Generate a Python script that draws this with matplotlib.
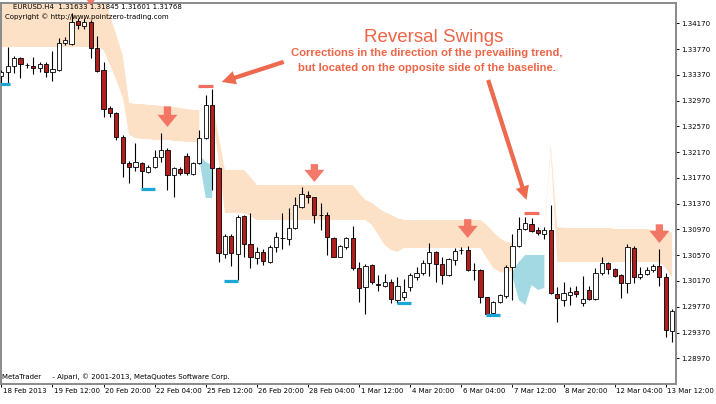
import numpy as np
import matplotlib
matplotlib.use('Agg')
import matplotlib.pyplot as plt
from matplotlib.patches import Rectangle
from matplotlib import transforms as mtrans

nan = np.nan

# ---------------- data (EURUSD H4) ----------------
opens = [1.33352, 1.33410, 1.33512, 1.33627, 1.33523, 1.33503, 1.33472, 1.33534, 1.33419, 1.33446,
         1.33860, 1.33849, 1.34206, 1.34133, 1.34195, 1.33782, 1.33446, 1.32851, 1.32773, 1.32410,
         1.32002, 1.31935, 1.32007, 1.31867, 1.31935, 1.32090, 1.32204, 1.31816, 1.31913, 1.32111,
         1.31831, 1.31997, 1.32385, 1.32902, 1.31920, 1.30589, 1.30869, 1.30589, 1.31179, 1.30745,
         1.30523, 1.30625, 1.30470, 1.30693, 1.30833, 1.30818, 1.30988, 1.31314, 1.31505, 1.31470,
         1.31199, 1.31195, 1.30833, 1.30548, 1.30703, 1.30833, 1.30367, 1.30073, 1.30419, 1.30119,
         1.30097, 1.30160, 1.29875, 1.29922, 1.30082, 1.30237, 1.30290, 1.30454, 1.30625, 1.30434,
         1.30263, 1.30496, 1.30652, 1.30652, 1.30341, 1.30341, 1.29917, 1.29669, 1.29849, 1.29938,
         1.30383, 1.30714, 1.30973, 1.31055, 1.30962, 1.30900, 1.30962, 1.29969, 1.29875, 1.29953,
         1.30015, 1.29834, 1.30031, 1.29886, 1.30299, 1.30454, 1.30352, 1.30263, 1.30135, 1.30678,
         1.30228, 1.30279, 1.30341, 1.30403, 1.30228, 1.29399]
highs = [1.33446, 1.33798, 1.33663, 1.33643, 1.33559, 1.33643, 1.33574, 1.33574, 1.33740, 1.33938,
         1.33953, 1.34335, 1.34248, 1.34248, 1.34222, 1.33973, 1.33574, 1.32887, 1.32798, 1.32437,
         1.32038, 1.32317, 1.32017, 1.31971, 1.32204, 1.32463, 1.32230, 1.31935, 1.31945, 1.32153,
         1.32022, 1.32514, 1.33057, 1.33146, 1.31935, 1.30900, 1.30900, 1.31195, 1.31195, 1.31221,
         1.30693, 1.30662, 1.30729, 1.30936, 1.31221, 1.31299, 1.31470, 1.31625, 1.31572, 1.31479,
         1.31376, 1.31246, 1.30858, 1.30729, 1.30849, 1.31024, 1.30470, 1.30434, 1.30434, 1.30263,
         1.30279, 1.30197, 1.30237, 1.30201, 1.30299, 1.30392, 1.30496, 1.30756, 1.30641, 1.30548,
         1.30523, 1.30678, 1.30703, 1.30714, 1.30454, 1.30357, 1.29927, 1.29865, 1.29969, 1.30419,
         1.30900, 1.31159, 1.31168, 1.31144, 1.31013, 1.31004, 1.31350, 1.30082, 1.30160, 1.30082,
         1.30093, 1.30248, 1.30093, 1.30367, 1.30548, 1.30470, 1.30367, 1.30279, 1.30745, 1.30714,
         1.30392, 1.30383, 1.30434, 1.30662, 1.30299, 1.29731]
lows = [1.33244, 1.33239, 1.33394, 1.33317, 1.33481, 1.33383, 1.33410, 1.33342, 1.33279, 1.33435,
        1.33834, 1.33834, 1.34077, 1.34077, 1.33627, 1.33419, 1.32711, 1.32711, 1.32359, 1.31780,
        1.31687, 1.31882, 1.31609, 1.31842, 1.31920, 1.32022, 1.31583, 1.31470, 1.31816, 1.31816,
        1.31816, 1.31986, 1.32370, 1.31583, 1.30470, 1.30523, 1.30403, 1.30186, 1.30538, 1.30367,
        1.30434, 1.30419, 1.30445, 1.30625, 1.30662, 1.30729, 1.30973, 1.31299, 1.31386, 1.31066,
        1.30962, 1.30574, 1.30538, 1.30538, 1.30662, 1.30341, 1.29849, 1.29658, 1.30124, 1.30020,
        1.30082, 1.29824, 1.29834, 1.29875, 1.30020, 1.30186, 1.30263, 1.30248, 1.30160, 1.30124,
        1.30248, 1.30419, 1.30589, 1.30330, 1.30186, 1.29834, 1.29643, 1.29658, 1.29834, 1.29902,
        1.29875, 1.30703, 1.30962, 1.30936, 1.30884, 1.30818, 1.29969, 1.29539, 1.29782, 1.29798,
        1.29927, 1.29782, 1.29875, 1.29875, 1.30263, 1.30279, 1.30228, 1.29902, 1.29989, 1.30144,
        1.30197, 1.30263, 1.30315, 1.30093, 1.29296, 1.29228]
closes = [1.33414, 1.33512, 1.33627, 1.33534, 1.33515, 1.33472, 1.33539, 1.33419, 1.33461, 1.33869,
          1.33911, 1.34195, 1.34144, 1.34195, 1.33782, 1.33435, 1.32835, 1.32773, 1.32401, 1.31997,
          1.31935, 1.32013, 1.31882, 1.31945, 1.32090, 1.32204, 1.31816, 1.31920, 1.31842, 1.31842,
          1.31997, 1.32385, 1.32902, 1.31920, 1.30610, 1.30869, 1.30600, 1.31168, 1.30745, 1.30538,
          1.30625, 1.30485, 1.30703, 1.30849, 1.30838, 1.30988, 1.31350, 1.31521, 1.31479, 1.31195,
          1.31190, 1.30849, 1.30548, 1.30714, 1.30833, 1.30367, 1.30057, 1.30403, 1.30160, 1.30113,
          1.30160, 1.29886, 1.30093, 1.30000, 1.30263, 1.30290, 1.30454, 1.30625, 1.30434, 1.30263,
          1.30507, 1.30641, 1.30647, 1.30341, 1.30336, 1.29917, 1.29658, 1.29849, 1.29953, 1.30392,
          1.30714, 1.30973, 1.31075, 1.30951, 1.30911, 1.30962, 1.29979, 1.29902, 1.29989, 1.30004,
          1.29969, 1.29891, 1.29886, 1.30299, 1.30454, 1.30352, 1.30248, 1.30135, 1.30693, 1.30237,
          1.30279, 1.30341, 1.30403, 1.30228, 1.29410, 1.29709]

# baseline band (peach) upper / lower edges
band_upper = ([1.34656] * 17 +
              [1.34299, 1.33989, 1.33678, 1.32933, 1.32918, 1.32918, 1.32902, 1.32902, 1.32887, 1.32887,
               1.32871, 1.32856, 1.32840, 1.32825, 1.32825, nan, 1.32933, 1.32437] +
              [1.31893] * 4 + [1.31785] + [1.31660] * 16 +
              [1.31536, 1.31428, 1.31381, 1.31303, 1.31241, 1.31195, 1.31148] +
              [1.31117] * 13 +
              [1.31040, 1.30931, 1.30838, 1.30776, 1.30760, nan, nan, nan, nan, 1.30993, 1.32282, 1.31009] +
              [1.30993] * 8 + [1.30978] * 6 + [1.30962] * 3 + [1.30916])
band_lower = ([1.33803] * 16 +
              [1.33756, 1.33523, 1.33290, 1.33026, 1.32437, 1.32390, 1.32374, 1.32374, 1.32359, 1.32359,
               1.32359, 1.32343, 1.32343, 1.32328, 1.32328, 1.32328, nan, 1.32825, 1.32050] +
              [1.31226] * 4 + [1.31179] + [1.31117] * 18 +
              [1.31040, 1.30884, 1.30729, 1.30652, 1.30621] +
              [1.30683] * 13 +
              [1.30527, 1.30372, 1.30310, 1.30295, 1.30341, nan, nan, nan, nan, 1.30931, 1.32204] +
              [1.30465] * 17 + [1.30372, 1.30217])
# opposite-side (blue) zone
blue_upper = ([nan] * 31 + [1.32126, 1.32017, 1.31971] + [nan] * 46 +
              [1.30310, 1.30465, 1.30574, 1.30574, 1.30574, 1.30574] + [nan] * 20)
blue_lower = ([nan] * 31 + [1.32050, 1.31459, 1.31459] + [nan] * 46 +
              [1.30248, 1.29875, 1.29798, 1.30108, 1.30031, 1.30062] + [nan] * 20)

swing_low_bars = [0, 22, 37, 62, 77]
swing_low_centers = [0.3, 23, 36, 63, 77]
swing_high_bars = [33, 82]
swing_high_centers = [32, 83]
signal_bars = [14, 26, 49, 73, 103]
signal_tips = [1.34454, 1.32561, 1.31707, 1.30838, 1.30760]
signal_tails = [1.34750, 1.32880, 1.31985, 1.31130, 1.31050]

x_tick_bars = [0, 8, 16, 24, 32, 40, 48, 56, 64, 72, 80, 88, 96, 104]
x_tick_labels = ['18 Feb 2013', '19 Feb 12:00', '20 Feb 20:00', '22 Feb 04:00', '25 Feb 12:00',
                 '26 Feb 20:00', '28 Feb 04:00', '1 Mar 12:00', '4 Mar 20:00', '6 Mar 04:00',
                 '7 Mar 12:00', '8 Mar 20:00', '12 Mar 04:00', '13 Mar 12:00']
y_ticks = [1.28970, 1.29370, 1.29770, 1.30170, 1.30570, 1.30970, 1.31370, 1.31770,
           1.32170, 1.32570, 1.32970, 1.33370, 1.33770, 1.34170]

# ---------------- drawing ----------------
W, H = 716, 404
fig = plt.figure(figsize=(W / 100, H / 100), dpi=100)
fig.patch.set_facecolor('white')
ax = fig.add_axes([1 / W, (H - 383.5) / H, 675 / W, 380.5 / H])
ax.set_xlim(-0.05, 105.6)
ax.set_ylim(1.28579, 1.34485)

idx = np.arange(len(opens))
bu = np.array(band_upper, float)
bl = np.array(band_lower, float)
ax.fill_between(idx, bl, bu, color='#fde1c6', lw=0, zorder=1)
ax.fill_between(idx, np.array(blue_lower, float), np.array(blue_upper, float),
                color='#a3d9e3', lw=0, zorder=1)

body_w = 0.66
for i in idx:
    o, h, l, c = opens[i], highs[i], lows[i], closes[i]
    ax.plot([i, i], [l, h], color='black', lw=0.8, zorder=3, solid_capstyle='butt')
    bottom = min(o, c)
    height = max(abs(c - o), 0.00004)
    fc = 'white' if c >= o else '#b01e1e'
    ax.add_patch(Rectangle((i - body_w / 2, bottom), body_w, height, facecolor=fc,
                           edgecolor='black', lw=0.6, zorder=4))

for b, cx in zip(swing_low_bars, swing_low_centers):
    ax.plot([cx - 1.1, cx + 1.1], [lows[b] - 0.00010, lows[b] - 0.00010], color='#1ca6d8',
            lw=2.3, zorder=5, solid_capstyle='butt')
for b, cx in zip(swing_high_bars, swing_high_centers):
    ax.plot([cx - 1.2, cx + 1.2], [highs[b] + 0.00050, highs[b] + 0.00050], color='#f06e60',
            lw=2.3, zorder=5, solid_capstyle='butt')

for b, tip, tail in zip(signal_bars, signal_tips, signal_tails):
    ax.annotate('', xy=(b, tip), xytext=(b, tail), annotation_clip=False,
                arrowprops=dict(arrowstyle='simple,head_length=0.7,head_width=1.15,tail_width=0.42',
                                fc='#f26a5a', ec='none', mutation_scale=12.5, shrinkA=0, shrinkB=0,
                                alpha=0.9), zorder=6)

arrow_col = '#ee6a4e'
ax.annotate('', xy=(34.5, 1.33259), xytext=(44.2, 1.33571),
            arrowprops=dict(arrowstyle='simple,head_length=0.9,head_width=0.9,tail_width=0.28',
                            fc=arrow_col, ec='none', mutation_scale=11, shrinkA=0, shrinkB=0), zorder=6)
ax.annotate('', xy=(82.2, 1.31428), xytext=(76.2, 1.33290),
            arrowprops=dict(arrowstyle='simple,head_length=0.9,head_width=0.9,tail_width=0.28',
                            fc=arrow_col, ec='none', mutation_scale=11, shrinkA=0, shrinkB=0), zorder=6)

# frame and ticks
for s in ax.spines.values():
    s.set_color('#8a8a8a')
    s.set_linewidth(1.4)
ax.yaxis.tick_right()
ax.set_yticks(y_ticks)
ax.set_yticklabels(['%.5f' % v for v in y_ticks], fontsize=5, family='DejaVu Sans')
ax.tick_params(axis='y', direction='out', length=2.2, width=0.7, pad=1.2, colors='black')
ax.set_xticks(x_tick_bars)
ax.set_xticklabels([])
ax.tick_params(axis='x', direction='out', length=2.2, width=0.7, colors='black')
trans = mtrans.offset_copy(ax.get_xaxis_transform(), fig=fig, x=1.5, y=-7.5, units='dots')
for b, lab in zip(x_tick_bars, x_tick_labels):
    ax.text(b, 0, lab, transform=trans, ha='left', va='center', fontsize=5, family='DejaVu Sans')

def fx(px):
    return px / W

def fy(py):
    return 1 - py / H

fig.text(fx(13), fy(7), 'EURUSD.H4  1.31633 1.31845 1.31601 1.31768', fontsize=5,
         family='DejaVu Sans', va='center', ha='left', zorder=10)
fig.text(fx(5), fy(16.5), 'Copyright \u00a9 http://www.pointzero-trading.com', fontsize=5,
         family='DejaVu Sans', va='center', ha='left', zorder=10)
fig.text(fx(2), fy(377), 'MetaTrader     - Alpari, \u00a9 2001-2013, MetaQuotes Software Corp.',
         fontsize=5, family='DejaVu Sans', va='center', ha='left', zorder=10)

title_col = '#ee6446'
fig.text(fx(434), fy(38), 'Reversal Swings', fontsize=13.5, family='Liberation Sans',
         color=title_col, ha='center', va='center', zorder=10)
fig.text(fx(427), fy(52.5), 'Corrections in the direction of the prevailing trend,',
         fontsize=8.1, family='Liberation Sans', weight='bold', color=title_col,
         ha='center', va='center', zorder=10)
fig.text(fx(427), fy(68), 'but located on the opposite side of the baseline.',
         fontsize=8.1, family='Liberation Sans', weight='bold', color=title_col,
         ha='center', va='center', zorder=10)

fig.savefig('out.png', dpi=100)
